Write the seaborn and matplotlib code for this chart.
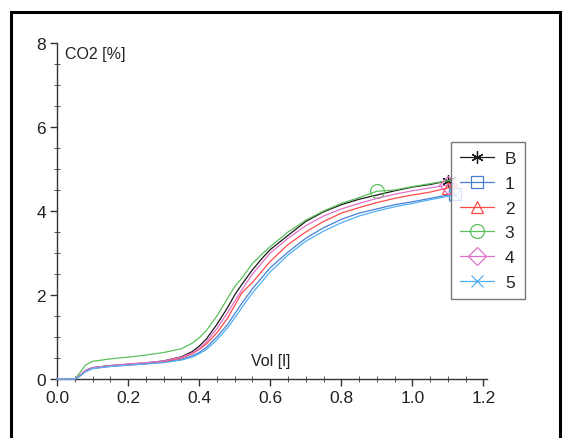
import matplotlib
matplotlib.use("Agg")
import matplotlib.pyplot as plt
import seaborn as sns
import numpy as np
import pandas as pd
from matplotlib.patches import Rectangle
from matplotlib.ticker import MultipleLocator

sns.set_style("white")
plt.rcParams['font.family'] = ['Liberation Sans', 'DejaVu Sans']

vol = [0.00, 0.02, 0.04, 0.05, 0.06, 0.08, 0.10, 0.15, 0.20, 0.25, 0.30, 0.35, 0.38,
       0.40, 0.42, 0.45, 0.48, 0.50, 0.52, 0.55, 0.58, 0.60, 0.65, 0.70, 0.75, 0.80,
       0.85, 0.90, 0.95, 1.00, 1.05, 1.10, 1.12]

co2_B = [0, 0, 0, 0, 0.05, 0.20, 0.27, 0.32, 0.35, 0.38, 0.43, 0.53, 0.65,
         0.78, 0.95, 1.30, 1.70, 2.00, 2.25, 2.60, 2.90, 3.08, 3.42, 3.75, 3.98, 4.15,
         4.28, 4.38, 4.48, 4.57, 4.63, 4.72, 4.80]
co2_1 = [0, 0, 0, 0, 0.05, 0.18, 0.25, 0.30, 0.33, 0.36, 0.40, 0.47, 0.55,
         0.63, 0.75, 1.00, 1.30, 1.55, 1.80, 2.15, 2.45, 2.65, 3.02, 3.35, 3.60, 3.80,
         3.95, 4.05, 4.15, 4.22, 4.30, 4.38, 4.40]
co2_2 = [0, 0, 0, 0, 0.05, 0.18, 0.26, 0.31, 0.34, 0.37, 0.41, 0.50, 0.60,
         0.70, 0.83, 1.10, 1.45, 1.75, 2.05, 2.30, 2.60, 2.80, 3.20, 3.50, 3.75, 3.95,
         4.08, 4.20, 4.30, 4.38, 4.45, 4.55, 4.60]
co2_3 = [0, 0, 0, 0, 0.10, 0.33, 0.42, 0.48, 0.52, 0.57, 0.63, 0.72, 0.85,
         0.98, 1.15, 1.50, 1.92, 2.20, 2.40, 2.75, 3.00, 3.15, 3.50, 3.78, 4.00, 4.18,
         4.32, 4.47, 4.50, 4.58, 4.65, 4.72, 4.75]
co2_4 = [0, 0, 0, 0, 0.05, 0.20, 0.27, 0.32, 0.36, 0.39, 0.43, 0.52, 0.62,
         0.72, 0.88, 1.20, 1.58, 1.85, 2.12, 2.50, 2.80, 3.00, 3.35, 3.65, 3.88, 4.05,
         4.18, 4.30, 4.40, 4.48, 4.55, 4.62, 4.65]
co2_5 = [0, 0, 0, 0, 0.04, 0.17, 0.25, 0.30, 0.33, 0.36, 0.39, 0.45, 0.52,
         0.60, 0.70, 0.93, 1.22, 1.45, 1.70, 2.05, 2.35, 2.55, 2.95, 3.28, 3.52, 3.72,
         3.88, 4.00, 4.10, 4.18, 4.27, 4.35, 4.38]

labels = ["B", "1", "2", "3", "4", "5"]
series = [co2_B, co2_1, co2_2, co2_3, co2_4, co2_5]
colors = ["#1a1a1a", "#4a7fd4", "#ff4a4a", "#5cc05c", "#e070c8", "#4fb0f5"]
markers = [(6, 2, 0), "s", "^", "o", "D", "x"]
marker_at = [1.10, 1.12, 1.10, 0.90, 1.10, 1.12]

fig = plt.figure(figsize=(5.64, 4.39), dpi=100)
ax = fig.add_axes([57 / 564, 1 - 380 / 439, 430 / 564, 336 / 439])

for lab, ys, c, m, mx in zip(labels, series, colors, markers, marker_at):
    idx = vol.index(mx)
    sns.lineplot(x=vol, y=ys, ax=ax, color=c, linewidth=0.9, label=lab,
                 marker=m, markevery=[idx], markersize=10 if m == "o" else 9,
                 markerfacecolor="none", markeredgecolor=c, markeredgewidth=0.9,
                 clip_on=False, zorder=3)

ax.set_xlim(0, 1.21)
ax.set_ylim(0, 8)
ax.xaxis.set_minor_locator(MultipleLocator(0.05))
ax.yaxis.set_minor_locator(MultipleLocator(0.5))
ax.set_xticks([0.0, 0.2, 0.4, 0.6, 0.8, 1.0, 1.2])
ax.set_xticklabels(["0.0", "0.2", "0.4", "0.6", "0.8", "1.0", "1.2"])
ax.set_yticks([0, 2, 4, 6, 8])
ax.set_yticklabels(["0", "2", "4", "6", "8"])
for s in ["top", "right"]:
    ax.spines[s].set_visible(False)
for s in ["left", "bottom"]:
    ax.spines[s].set_color("#333333")
    ax.spines[s].set_linewidth(1.0)
ax.tick_params(axis="both", which="major", direction="out", length=5, width=1,
               color="#333333", labelsize=12.5, labelcolor="#222222", pad=3,
               bottom=True, left=True)
ax.tick_params(axis="both", which="minor", direction="inout", length=4, width=0.7,
               color="#555555", bottom=True, left=True)
ax.set_xlabel("")
ax.set_ylabel("")

ax.text(0.022, 7.75, "CO2 [%]", fontsize=11.5, color="#222222", ha="left", va="center")
ax.text(0.60, 0.43, "Vol [l]", fontsize=11.5, color="#222222", ha="center", va="center")

leg = ax.legend(loc="upper left", bbox_to_anchor=(451 / 564, 1 - 143 / 439),
                bbox_transform=fig.transFigure, frameon=True, fancybox=False,
                edgecolor="#555555", fontsize=12.5, handlelength=2.0,
                labelspacing=0.56, borderpad=0.5, handletextpad=0.6,
                borderaxespad=0)
leg.get_frame().set_linewidth(1.0)

fig.patches.append(Rectangle((11 / 564, -0.02), (560 - 11) / 564, 1 - 13 / 439 + 0.02,
                             transform=fig.transFigure, fill=False,
                             edgecolor="black", linewidth=2.2, zorder=10))

fig.savefig("out.png", dpi=100)
